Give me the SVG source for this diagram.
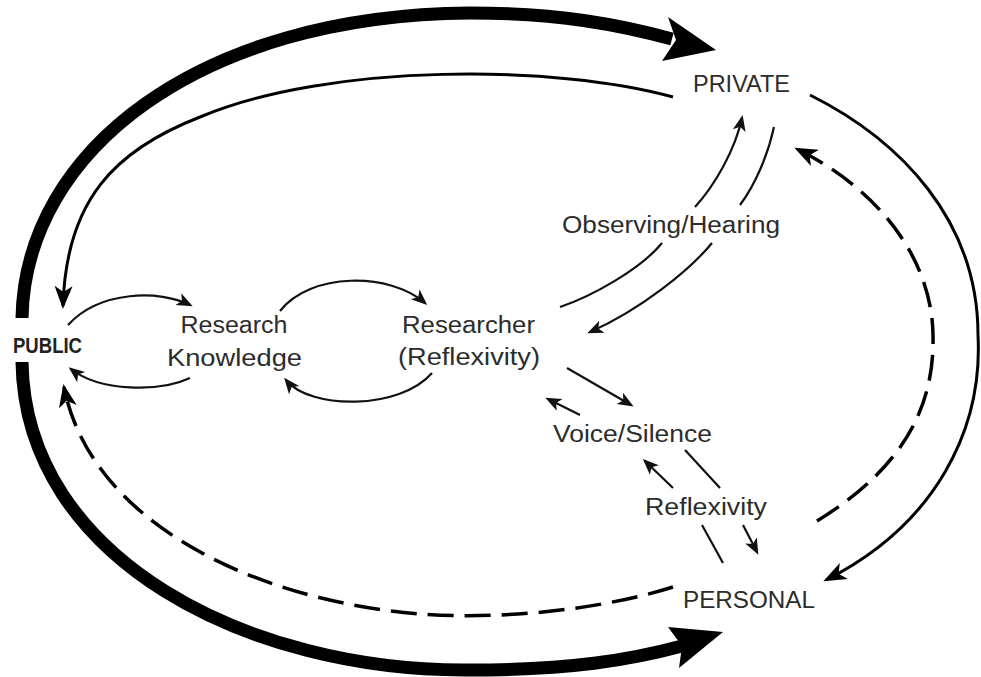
<svg xmlns="http://www.w3.org/2000/svg" width="981" height="677" viewBox="0 0 981 677">
  <style>
    .lbl { font-family: "Liberation Sans", Arial, sans-serif; font-size: 23px; fill: #2c2c2c; text-anchor: middle; }
    .pub { font-family: "Liberation Sans", Arial, sans-serif; font-size: 22px; font-weight: bold; fill: #222; text-anchor: middle; }
    .thick { fill: none; stroke: #000; stroke-width: 13; stroke-linecap: butt; }
    .arc { fill: none; stroke: #000; stroke-width: 3; }
    .dash { fill: none; stroke: #000; stroke-width: 3.5; stroke-dasharray: 26 11; }
    .small { fill: none; stroke: #111; stroke-width: 2.2; }
    .head { fill: #000; }
  </style>
  <defs>
    <marker id="mid" markerUnits="userSpaceOnUse" viewBox="-24 -11 28 22" refX="0" refY="0" markerWidth="28" markerHeight="22" orient="auto">
      <path d="M3,0 L-20,-9 L-14,0 L-20,9 Z" fill="#000"/>
    </marker>
    <marker id="sm" markerUnits="userSpaceOnUse" viewBox="-16 -8 20 16" refX="0" refY="0" markerWidth="20" markerHeight="16" orient="auto">
      <path d="M3,0 L-13,-6.5 L-9,0 L-13,6.5 Z" fill="#111"/>
    </marker>
  </defs>

  <!-- node labels -->
  <g id="public"><text class="pub" x="47.5" y="353" textLength="69" lengthAdjust="spacingAndGlyphs">PUBLIC</text></g>
  <g id="private"><text class="lbl" x="741.5" y="92" textLength="97" lengthAdjust="spacingAndGlyphs">PRIVATE</text></g>
  <g id="personal"><text class="lbl" x="749" y="608" textLength="132" lengthAdjust="spacingAndGlyphs">PERSONAL</text></g>
  <g id="research-knowledge">
    <text class="lbl" x="234" y="333" textLength="107" lengthAdjust="spacingAndGlyphs">Research</text>
    <text class="lbl" x="234.5" y="366" textLength="135" lengthAdjust="spacingAndGlyphs">Knowledge</text>
  </g>
  <g id="researcher">
    <text class="lbl" x="468.5" y="333" textLength="133" lengthAdjust="spacingAndGlyphs">Researcher</text>
    <text class="lbl" x="469" y="365" textLength="142" lengthAdjust="spacingAndGlyphs">(Reflexivity)</text>
  </g>
  <g id="voice-silence"><text class="lbl" x="632.5" y="442" textLength="159" lengthAdjust="spacingAndGlyphs">Voice/Silence</text></g>
  <g id="observing-hearing"><text class="lbl" x="671" y="233" textLength="218" lengthAdjust="spacingAndGlyphs">Observing/Hearing</text></g>
  <g id="reflexivity"><text class="lbl" x="706" y="515" textLength="122" lengthAdjust="spacingAndGlyphs">Reflexivity</text></g>

  <g id="connectors">
    <!-- heavy outer arcs from PUBLIC -->
    <path class="thick" d="M22,318 C 25,150 200,15 470,13 C 560,13 620,25 672,39"/>
    <polygon class="head" points="716,50 668,17 676,40 662,61"/>
    <path class="thick" d="M22,362 C 25,560 250,672 470,670 C 570,670 630,660 682,646"/>
    <polygon class="head" points="723,632 668,627 682,646 679,668"/>

    <!-- PRIVATE back to PUBLIC -->
    <path class="arc" marker-end="url(#mid)" d="M673,97 C 560,65 330,62 200,117 C 115,150 66,200 63,306"/>
    <!-- PRIVATE to PERSONAL -->
    <path class="arc" marker-end="url(#mid)" d="M810,95 C 900,140 978,220 978,335 C 983,430 935,525 826,580"/>
    <!-- PERSONAL to PRIVATE (dashed) -->
    <path class="dash" marker-end="url(#mid)" d="M817,521 C 900,470 935,410 933,335 C 932,260 880,190 797,149"/>
    <!-- PERSONAL to PUBLIC (dashed) -->
    <path class="dash" marker-end="url(#mid)" d="M673,587 C 600,610 500,620 420,614 C 250,600 90,520 64,387"/>

    <!-- PUBLIC and Research Knowledge -->
    <path class="small" marker-end="url(#sm)" d="M68,325 C 100,290 160,290 190,305"/>
    <path class="small" marker-end="url(#sm)" d="M190,378 C 160,392 100,392 71,369"/>
    <!-- Research Knowledge and Researcher -->
    <path class="small" marker-end="url(#sm)" d="M280,311 C 310,272 390,272 425,303"/>
    <path class="small" marker-end="url(#sm)" d="M432,373 C 400,410 310,410 286,380"/>

    <!-- Researcher and PRIVATE via Observing/Hearing -->
    <path class="small" d="M560,307 C 590,297 640,270 662,243"/>
    <path class="small" marker-end="url(#sm)" d="M695,207 C 715,185 735,150 742,118"/>
    <path class="small" d="M774,127 C 768,155 755,185 740,205"/>
    <path class="small" marker-end="url(#sm)" d="M712,243 C 690,270 640,310 590,332"/>

    <!-- Researcher and Voice/Silence -->
    <path class="small" marker-end="url(#sm)" d="M567,368 L631,405"/>
    <path class="small" marker-end="url(#sm)" d="M580,415 L548,399"/>

    <!-- Voice/Silence and PERSONAL via Reflexivity -->
    <path class="small" d="M723,563 L702,525"/>
    <path class="small" marker-end="url(#sm)" d="M673,488 L645,461"/>
    <path class="small" d="M685,450 L720,488"/>
    <path class="small" marker-end="url(#sm)" d="M743,525 L757,552"/>
  </g>
</svg>
